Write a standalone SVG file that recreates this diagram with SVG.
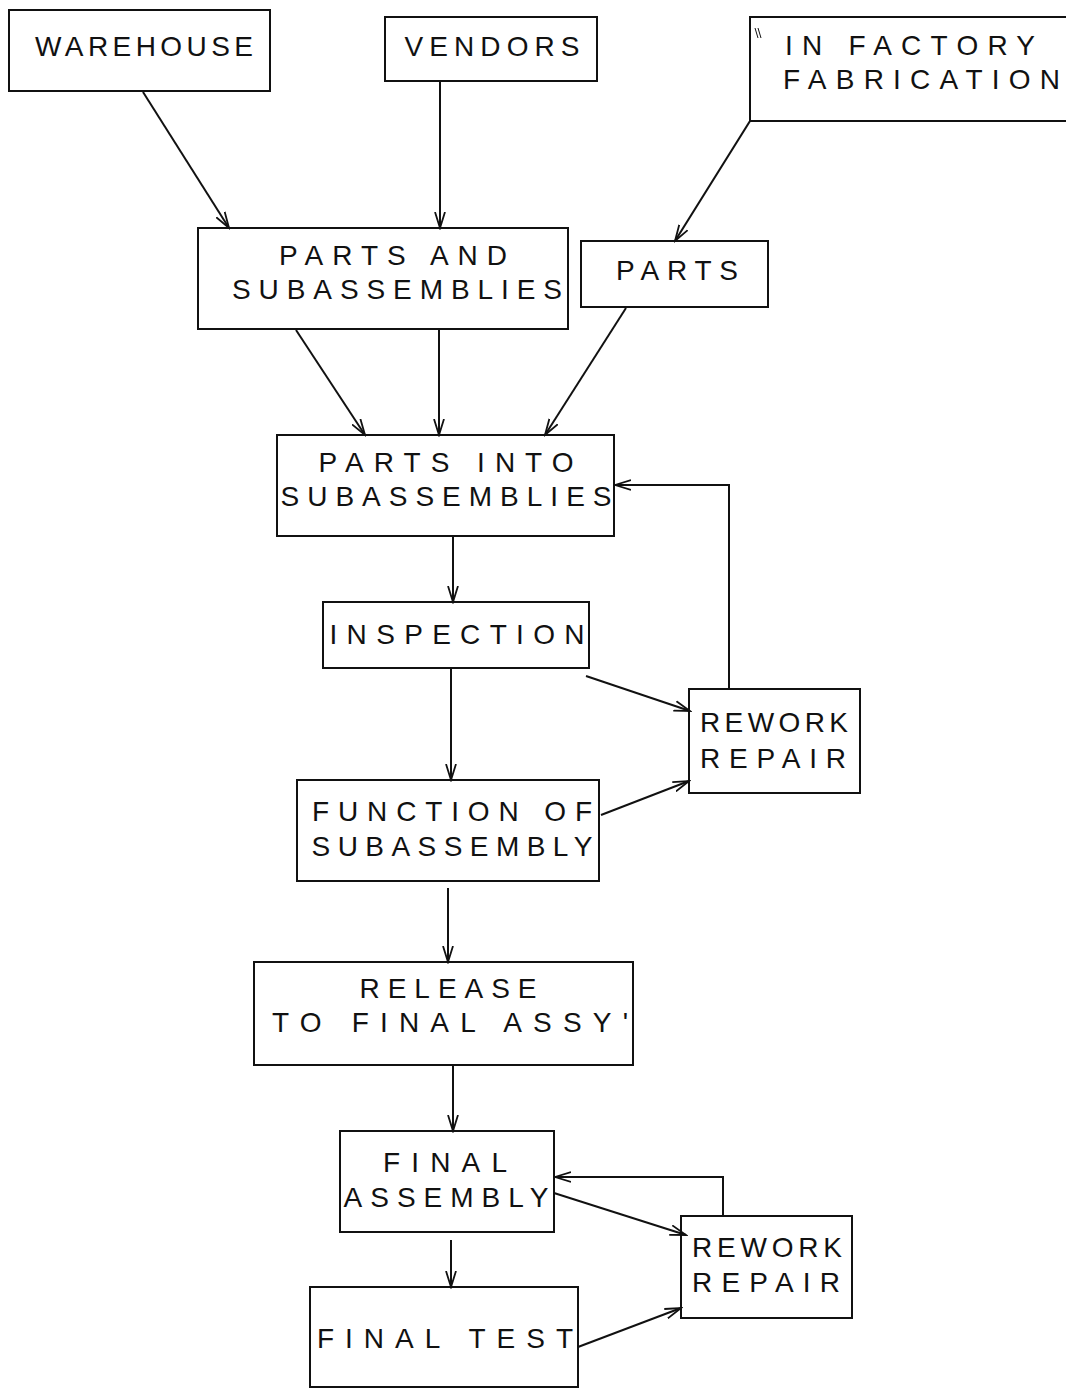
<svg xmlns="http://www.w3.org/2000/svg" width="1066" height="1389" viewBox="0 0 1066 1389">
<style>
.box{fill:#fff;stroke:#111;stroke-width:2}
.t{font-family:"Liberation Sans",Arial,sans-serif;font-size:28px;fill:#111;text-anchor:middle}
.ts{font-family:"Liberation Sans",Arial,sans-serif;font-size:28px;fill:#111;text-anchor:start}
.c{fill:none;stroke:#111;stroke-width:2;marker-end:url(#arr)}
</style>
<defs>
<marker id="arr" markerWidth="18" markerHeight="12" refX="16" refY="6" orient="auto" markerUnits="userSpaceOnUse">
<path d="M0,1 L16,6 L0,11" fill="none" stroke="#111" stroke-width="1.8"/>
</marker>
</defs>
<rect width="1066" height="1389" fill="#fff"/>

<g id="warehouse">
<rect class="box" x="9" y="10" width="261" height="81"/>
<text class="t" x="144" y="56" textLength="218" lengthAdjust="spacing">WAREHOUSE</text>
</g>
<g id="vendors">
<rect class="box" x="385" y="17" width="212" height="64"/>
<text class="t" x="492" y="56" textLength="175" lengthAdjust="spacing">VENDORS</text>
</g>
<g id="in-factory">
<rect class="box" x="750" y="17" width="330" height="104"/>
<line x1="755" y1="28" x2="758" y2="38" stroke="#111" stroke-width="1"/>
<line x1="758" y1="28" x2="761" y2="38" stroke="#111" stroke-width="1"/>
<text class="ts" x="785" y="55" textLength="250" lengthAdjust="spacing">IN FACTORY</text>
<text class="ts" x="783" y="89" textLength="277" lengthAdjust="spacing">FABRICATION</text>
</g>
<g id="parts-and-subassemblies">
<rect class="box" x="198" y="228" width="370" height="101"/>
<text class="t" x="393" y="265" textLength="228" lengthAdjust="spacing">PARTS AND</text>
<text class="t" x="397" y="299" textLength="330" lengthAdjust="spacing">SUBASSEMBLIES</text>
</g>
<g id="parts">
<rect class="box" x="581" y="241" width="187" height="66"/>
<text class="t" x="677" y="280" textLength="122" lengthAdjust="spacing">PARTS</text>
</g>
<g id="parts-into-subassemblies">
<rect class="box" x="277" y="435" width="337" height="101"/>
<text class="t" x="446" y="472" textLength="255" lengthAdjust="spacing">PARTS INTO</text>
<text class="t" x="446" y="506" textLength="331" lengthAdjust="spacing">SUBASSEMBLIES</text>
</g>
<g id="inspection">
<rect class="box" x="323" y="602" width="266" height="66"/>
<text class="t" x="457" y="644" textLength="255" lengthAdjust="spacing">INSPECTION</text>
</g>
<g id="rework-repair-1">
<rect class="box" x="689" y="689" width="171" height="104"/>
<text class="t" x="774" y="732" textLength="148" lengthAdjust="spacing">REWORK</text>
<text class="t" x="773" y="768" textLength="146" lengthAdjust="spacing">REPAIR</text>
</g>
<g id="function-of-subassembly">
<rect class="box" x="297" y="780" width="302" height="101"/>
<text class="t" x="452" y="821" textLength="280" lengthAdjust="spacing">FUNCTION OF</text>
<text class="t" x="452" y="856" textLength="281" lengthAdjust="spacing">SUBASSEMBLY</text>
</g>
<g id="release-to-final-assy">
<rect class="box" x="254" y="962" width="379" height="103"/>
<text class="t" x="448" y="998" textLength="177" lengthAdjust="spacing">RELEASE</text>
<text class="t" x="450" y="1032" textLength="356" lengthAdjust="spacing">TO FINAL ASSY'</text>
</g>
<g id="final-assembly">
<rect class="box" x="340" y="1131" width="214" height="101"/>
<text class="t" x="445" y="1172" textLength="124" lengthAdjust="spacing">FINAL</text>
<text class="t" x="446" y="1207" textLength="205" lengthAdjust="spacing">ASSEMBLY</text>
</g>
<g id="rework-repair-2">
<rect class="box" x="681" y="1216" width="171" height="102"/>
<text class="t" x="767" y="1257" textLength="150" lengthAdjust="spacing">REWORK</text>
<text class="t" x="766" y="1292" textLength="148" lengthAdjust="spacing">REPAIR</text>
</g>
<g id="final-test">
<rect class="box" x="310" y="1287" width="268" height="100"/>
<text class="t" x="445" y="1348" textLength="256" lengthAdjust="spacing">FINAL TEST</text>
</g>

<g id="connectors">
<line class="c" x1="143" y1="92" x2="229" y2="228"/>
<line class="c" x1="440" y1="81" x2="440" y2="228"/>
<line class="c" x1="750" y1="121" x2="675" y2="241"/>
<line class="c" x1="296" y1="330" x2="365" y2="435"/>
<line class="c" x1="439" y1="330" x2="439" y2="435"/>
<line class="c" x1="626" y1="308" x2="545" y2="435"/>
<line class="c" x1="453" y1="537" x2="453" y2="602"/>
<line class="c" x1="586" y1="676" x2="690" y2="711"/>
<line class="c" x1="451" y1="669" x2="451" y2="780"/>
<line class="c" x1="601" y1="815" x2="689" y2="781"/>
<polyline class="c" points="729,689 729,485 615,485"/>
<line class="c" x1="448" y1="888" x2="448" y2="962"/>
<line class="c" x1="453" y1="1066" x2="453" y2="1131"/>
<line class="c" x1="554" y1="1193" x2="686" y2="1235"/>
<polyline class="c" points="723,1216 723,1177 555,1177"/>
<line class="c" x1="451" y1="1240" x2="451" y2="1287"/>
<line class="c" x1="578" y1="1347" x2="681" y2="1308"/>
</g>
</svg>
